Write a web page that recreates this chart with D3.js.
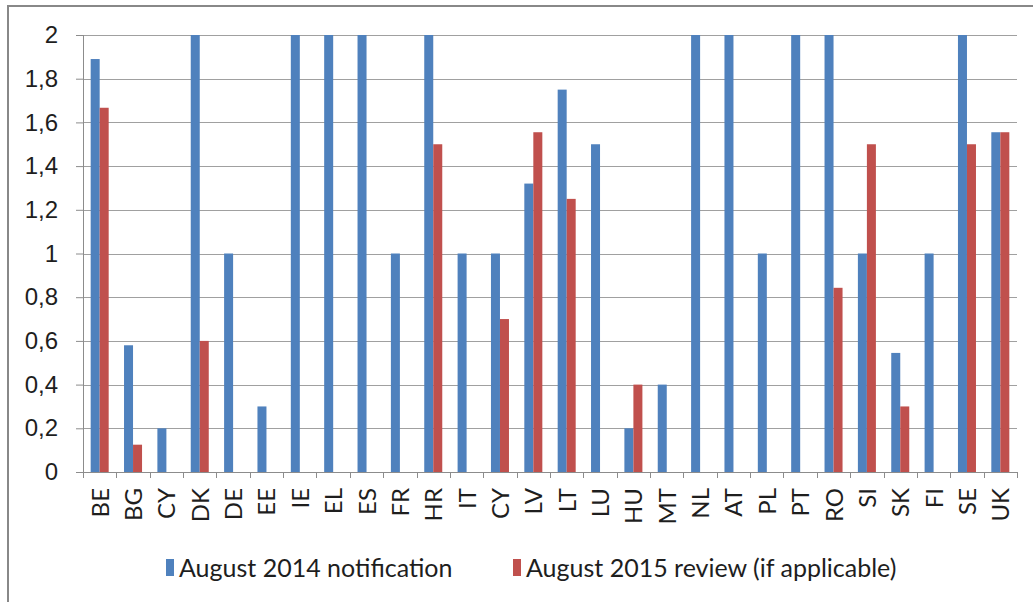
<!DOCTYPE html>
<html>
<head>
<meta charset="utf-8">
<script src="https://cdn.jsdelivr.net/npm/d3@7"></script>
<style>
  body { margin: 0; background: #fff; }
  svg { display: block; font-family: Lato, "Open Sans", sans-serif; }
  .grid line { stroke: #a0a0a0; stroke-width: 1; }
  .axis path, .axis line { stroke: #8c8c8c; }
  .axis text { fill: #1e1e1e; font-size: 24px; }
</style>
</head>
<body>
<script>
// country codes as in the picture (CY shows up twice)
var countries = ["BE","BG","CY","DK","DE","EE","IE","EL","ES","FR","HR","IT","CY","LV","LT","LU","HU","MT","NL","AT","PL","PT","RO","SI","SK","FI","SE","UK"];

var notif2014 = [1.89,0.58,0.2,2,1,0.3,2,2,2,1,2,1,1,1.32,1.75,1.5,0.2,0.4,2,2,1,2,2,1,0.545,1,2,1.555];
var review2015 = [1.667,0.125,null,0.6,null,null,null,null,null,null,1.5,null,0.7,1.555,1.25,null,0.4,null,null,null,null,null,0.843,1.5,0.3,null,1.5,1.555];

var seriesNames = ["August 2014 notification", "August 2015 review (if applicable)"];
var seriesColors = ["#4f81bd", "#c0504d"];
var yTicks = [0,0.2,0.4,0.6,0.8,1,1.2,1.4,1.6,1.8,2];

var W = 1033, H = 602;
var margin = {top: 35, left: 83, right: 16, bottom: 130};

var svg = d3.select("body").append("svg")
  .attr("width", W)
  .attr("height", H);

// outer chart frame, only left and top edges are in view
svg.append("path")
  .attr("d", "M8,602 V6 H1033")
  .attr("fill", "none")
  .attr("stroke", "#888")
  .attr("stroke-width", 2);

var innerW = W - margin.left - margin.right;
var innerH = H - margin.top - margin.bottom;

var x = d3.scaleBand()
  .domain(d3.range(countries.length))
  .range([0, innerW])
  .paddingInner(0)
  .paddingOuter(0);

var x1 = d3.scaleBand()
  .domain([0, 1])
  .range([x.bandwidth() * 0.23, x.bandwidth() * 0.77]);

var y = d3.scaleLinear().domain([0, 2]).range([innerH, 0]);

var g = svg.append("g")
  .attr("transform", "translate(" + margin.left + "," + margin.top + ")");

g.append("g").attr("class", "grid")
  .selectAll("line")
  .data(yTicks.slice(1))
  .enter().append("line")
    .attr("x1", 0)
    .attr("x2", innerW)
    .attr("y1", function(d) { return Math.round(y(d)) + 0.5; })
    .attr("y2", function(d) { return Math.round(y(d)) + 0.5; });

var fmt = function(d) { return String(+d.toFixed(1)).replace(".", ","); };

var yAxis = g.append("g").attr("class", "axis")
  .call(d3.axisLeft(y).tickValues(yTicks).tickFormat(fmt).tickSize(7).tickPadding(18));
yAxis.select(".domain").attr("d", "M0.5," + innerH + "V" + y(2));

var series = [notif2014, review2015];
series.forEach(function(vals, s) {
  g.append("g")
    .attr("fill", seriesColors[s])
    .selectAll("rect")
    .data(vals.map(function(v, i) { return {i: i, v: v}; }).filter(function(d) { return d.v != null; }))
    .enter().append("rect")
      .attr("x", function(d) { return x(d.i) + x1(s); })
      .attr("width", x1.bandwidth())
      .attr("y", function(d) { return y(d.v); })
      .attr("height", function(d) { return innerH - y(d.v); });
});

// x axis: ticks at category boundaries, labels rotated
var xAxisG = g.append("g").attr("class", "axis")
  .attr("transform", "translate(0," + innerH + ")");

xAxisG.append("line")
  .attr("x1", 0).attr("x2", innerW)
  .attr("y1", 0.5).attr("y2", 0.5);

xAxisG.selectAll(".tk")
  .data(d3.range(countries.length + 1))
  .enter().append("line")
    .attr("class", "tk")
    .attr("x1", function(i) { return Math.round(i * x.step()) + 0.5; })
    .attr("x2", function(i) { return Math.round(i * x.step()) + 0.5; })
    .attr("y1", 0).attr("y2", 6);

xAxisG.selectAll("text")
  .data(countries)
  .enter().append("text")
    .attr("transform", function(d, i) {
      return "translate(" + (x(i) + x.bandwidth() / 2 + 9) + ",16) rotate(-90)";
    })
    .attr("text-anchor", "end")
    .text(function(d) { return d; });

// legend
var legend = svg.append("g").attr("font-size", 25).attr("fill", "#1e1e1e");
var legendX = [166, 513];
seriesNames.forEach(function(name, s) {
  legend.append("rect")
    .attr("x", legendX[s]).attr("y", 559)
    .attr("width", 8).attr("height", 17)
    .attr("fill", seriesColors[s]);
  legend.append("text")
    .attr("x", legendX[s] + 13).attr("y", 577)
    .text(name);
});
</script>
</body>
</html>
